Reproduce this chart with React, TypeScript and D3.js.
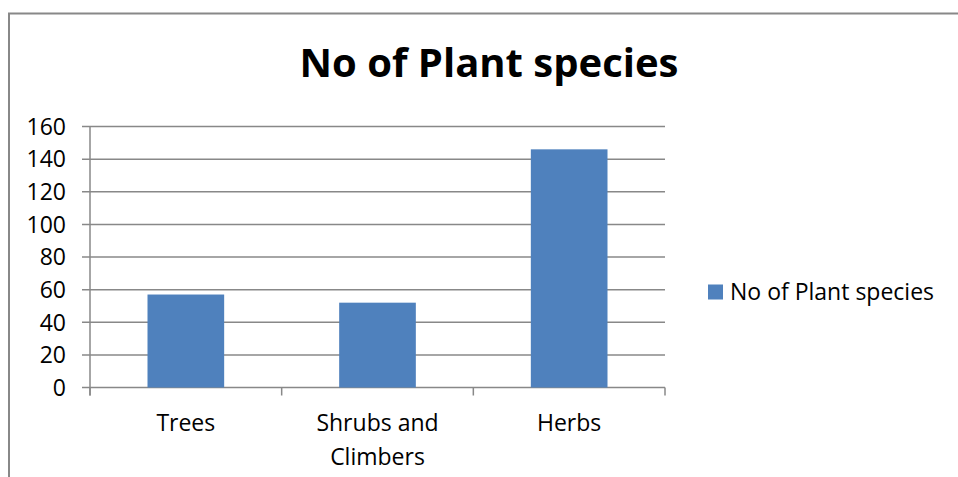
import React, { useEffect, useRef } from 'react'
import * as d3 from 'd3'

const categories = ['Trees', 'Shrubs and\nClimbers', 'Herbs']
const values = [57, 52, 146]
const yTicks = [0, 20, 40, 60, 80, 100, 120, 140, 160]
const seriesName = 'No of Plant species'
const title = 'No of Plant species'

const W = 958
const H = 477
const FONT = '"Open Sans", sans-serif'

export default function App() {
  const svgRef = useRef<SVGSVGElement>(null)

  useEffect(() => {
    const svg = d3.select(svgRef.current)
    svg.selectAll('*').remove()

    const left = 90, right = 665, top = 126.5, bottom = 387.5

    const x = d3.scaleBand<string>()
      .domain(categories)
      .range([left, right])
      .paddingInner(0.6)
      .paddingOuter(0.3)
    const step = (right - left) / categories.length

    const y = d3.scaleLinear().domain([0, 160]).range([bottom, top])

    // chart frame (partial, as cropped)
    svg.append('path')
      .attr('d', `M9,${H} L9,13.5 L${W},13.5`)
      .attr('fill', 'none')
      .attr('stroke', '#888')
      .attr('stroke-width', 2)

    svg.append('text')
      .attr('x', 489)
      .attr('y', 77)
      .attr('text-anchor', 'middle')
      .attr('font-family', FONT)
      .attr('font-weight', 'bold')
      .attr('font-size', 40)
      .attr('fill', '#000')
      .text(title)

    // gridlines
    svg.append('g')
      .selectAll('line')
      .data(yTicks)
      .join('line')
      .attr('x1', left - 8)
      .attr('x2', right)
      .attr('y1', d => y(d))
      .attr('y2', d => y(d))
      .attr('stroke', '#888')
      .attr('stroke-width', 1.5)

    // y labels
    svg.append('g')
      .selectAll('text')
      .data(yTicks)
      .join('text')
      .attr('x', 66)
      .attr('y', d => y(d))
      .attr('dy', '0.36em')
      .attr('text-anchor', 'end')
      .attr('font-family', FONT)
      .attr('font-size', 23)
      .attr('fill', '#000')
      .text(d => d)

    // y axis line
    svg.append('line')
      .attr('x1', left).attr('x2', left)
      .attr('y1', top).attr('y2', bottom + 8)
      .attr('stroke', '#888')
      .attr('stroke-width', 1.5)

    // category ticks
    svg.append('g')
      .selectAll('line')
      .data(d3.range(categories.length + 1))
      .join('line')
      .attr('x1', i => left + i * step)
      .attr('x2', i => left + i * step)
      .attr('y1', bottom)
      .attr('y2', bottom + 8)
      .attr('stroke', '#888')
      .attr('stroke-width', 1.5)

    // bars
    svg.append('g')
      .selectAll('rect')
      .data(values)
      .join('rect')
      .attr('x', (d, i) => x(categories[i])!)
      .attr('y', d => y(d))
      .attr('width', x.bandwidth())
      .attr('height', d => bottom - y(d))
      .attr('fill', '#4F81BD')

    // category labels
    const labels = svg.append('g')
      .selectAll('text')
      .data(categories)
      .join('text')
      .attr('x', d => x(d)! + x.bandwidth() / 2)
      .attr('y', 431)
      .attr('text-anchor', 'middle')
      .attr('font-family', FONT)
      .attr('font-size', 23)
      .attr('fill', '#000')
    labels.selectAll('tspan')
      .data(d => d.split('\n'))
      .join('tspan')
      .attr('x', function () { return (this.parentNode as SVGTextElement).getAttribute('x') })
      .attr('dy', (d, i) => i === 0 ? 0 : 34)
      .text(d => d)

    // legend
    svg.append('rect')
      .attr('x', 708).attr('y', 284.5)
      .attr('width', 15).attr('height', 15)
      .attr('fill', '#4F81BD')
    svg.append('text')
      .attr('x', 730)
      .attr('y', 292)
      .attr('dy', '0.36em')
      .attr('font-family', FONT)
      .attr('font-size', 23)
      .attr('fill', '#000')
      .text(seriesName)
  }, [])

  return (
    <svg ref={svgRef} width={W} height={H}
      style={{ position: 'absolute', left: 0, top: 0, background: '#fff' }} />
  )
}
